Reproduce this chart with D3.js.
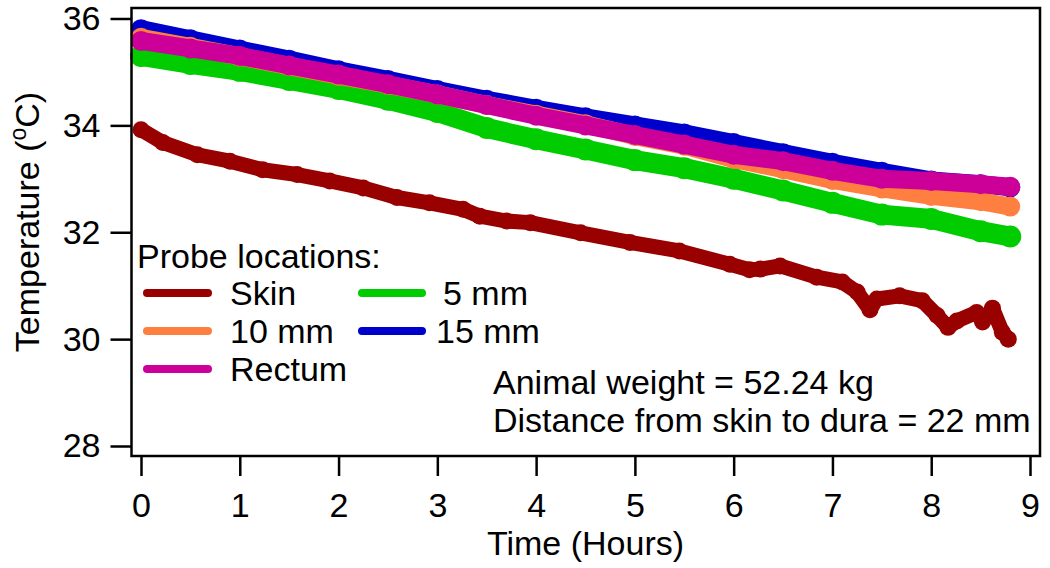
<!DOCTYPE html>
<html>
<head>
<meta charset="utf-8">
<script src="https://cdn.jsdelivr.net/npm/d3@7"></script>
<style>
  html, body { margin: 0; padding: 0; background: #fff; }
  svg { display: block; }
  text { font-family: "Liberation Sans", Arial, sans-serif; fill: #000; }
</style>
</head>
<body>
<svg id="chart" width="1050" height="568"></svg>
<script>
// ---- data ----
const hours = [0, 0.5, 1, 1.5, 2, 2.5, 3, 3.5, 4, 4.5, 5, 5.5, 6, 6.5, 7, 7.5, 8, 8.5, 8.8];
const probe15mm = [35.8, 35.61, 35.42, 35.23, 35.03, 34.85, 34.66, 34.48, 34.31, 34.15, 34.0, 33.85, 33.67, 33.48, 33.3, 33.13, 32.97, 32.9, 32.84];
const probe5mm  = [35.3, 35.15, 35.02, 34.85, 34.68, 34.48, 34.25, 33.95, 33.74, 33.55, 33.35, 33.2, 33.0, 32.78, 32.55, 32.33, 32.25, 32.02, 31.92];
const probe10mm = [35.64, 35.47, 35.29, 35.11, 34.93, 34.76, 34.58, 34.38, 34.2, 34.02, 33.8, 33.62, 33.37, 33.18, 32.98, 32.82, 32.68, 32.58, 32.48];
const probeRectum = [35.58, 35.44, 35.3, 35.12, 34.95, 34.77, 34.58, 34.38, 34.18, 34.0, 33.82, 33.64, 33.45, 33.33, 33.15, 33.0, 32.96, 32.9, 32.85];
const skinHours = [0, 0.22, 0.57, 0.9, 1.23, 1.58, 1.91, 2.25, 2.59, 2.92, 3.26, 3.43, 3.7, 3.94, 4.45, 4.95, 5.45, 5.96, 6.16, 6.27, 6.47, 6.84, 7.1, 7.25, 7.38, 7.45, 7.68, 7.91, 8.06, 8.17, 8.26, 8.46, 8.52, 8.62, 8.72, 8.78];
const skinTemp  = [33.92, 33.68, 33.45, 33.33, 33.17, 33.08, 32.96, 32.83, 32.65, 32.55, 32.43, 32.3, 32.21, 32.18, 31.99, 31.81, 31.65, 31.4, 31.3, 31.31, 31.37, 31.16, 31.07, 30.88, 30.55, 30.75, 30.81, 30.72, 30.44, 30.22, 30.34, 30.5, 30.32, 30.58, 30.13, 30.0];
const xTicks = [0, 1, 2, 3, 4, 5, 6, 7, 8, 9];
const yTicks = [28, 30, 32, 34, 36];
const seriesColors = {"Skin": "#990000", "10 mm": "#ff7f40", "Rectum": "#cc0099", "5 mm": "#00cc00", "15 mm": "#0000cc"};
const annotation = ["Animal weight = 52.24 kg", "Distance from skin to dura = 22 mm"];

// ---- layout ----
const svg = d3.select("#chart");
const frame = {left: 131.5, right: 1040, top: 8, bottom: 456};
const x = d3.scaleLinear().domain([0, 9]).range([141, 1030]);
const y = d3.scaleLinear().domain([28, 36]).range([446, 18.5]);
const FS = 34;

const series = [
  {name: "15 mm", t: hours, v: probe15mm, w: 18},
  {name: "5 mm", t: hours, v: probe5mm, w: 20},
  {name: "10 mm", t: hours, v: probe10mm, w: 18},
  {name: "Rectum", t: hours, v: probeRectum, w: 18},
  {name: "Skin", t: skinHours, v: skinTemp, w: 15}
];

const line = d3.line().x(d => x(d[0])).y(d => y(d[1]));
const plot = svg.append("g");
series.forEach(s => {
  const pts = s.t.map((t, i) => [t, s.v[i]]);
  plot.append("path")
    .attr("d", line(pts))
    .attr("fill", "none")
    .attr("stroke", seriesColors[s.name])
    .attr("stroke-width", s.w)
    .attr("stroke-linejoin", "round")
    .attr("stroke-linecap", "round");
  plot.selectAll(null).data(pts).enter().append("circle")
    .attr("cx", d => x(d[0])).attr("cy", d => y(d[1]))
    .attr("r", s.w / 2 + 1)
    .attr("fill", seriesColors[s.name]);
});

// frame
svg.append("rect")
  .attr("x", frame.left).attr("y", frame.top)
  .attr("width", frame.right - frame.left).attr("height", frame.bottom - frame.top)
  .attr("fill", "none").attr("stroke", "#000").attr("stroke-width", 2.5);

// axes
const yAxis = svg.append("g").attr("transform", `translate(${frame.left},0)`)
  .call(d3.axisLeft(y).tickValues(yTicks).tickSize(21).tickPadding(10));
const xAxis = svg.append("g").attr("transform", `translate(0,${frame.bottom})`)
  .call(d3.axisBottom(x).tickValues(xTicks).tickSize(20).tickPadding(17));
[yAxis, xAxis].forEach(a => {
  a.select(".domain").remove();
  a.selectAll(".tick line").attr("stroke", "#000").attr("stroke-width", 2.5);
  a.selectAll(".tick text").attr("font-size", FS).attr("font-family", "Liberation Sans, Arial, sans-serif").attr("fill", "#000");
});

// axis titles
svg.append("text").attr("x", 585.5).attr("y", 555).attr("text-anchor", "middle")
  .attr("font-size", FS).text("Time (Hours)");
const yl = svg.append("text").attr("transform", "translate(39,222) rotate(-90)")
  .attr("text-anchor", "middle").attr("font-size", FS);
yl.append("tspan").text("Temperature (");
yl.append("tspan").attr("font-size", 23).attr("dy", -13).text("o");
yl.append("tspan").attr("dy", 13).text("C)");

// legend
svg.append("text").attr("x", 137).attr("y", 268).attr("font-size", FS).text("Probe locations:");
const legendItems = [
  {name: "Skin", x1: 147, x2: 208, tx: 230, y: 293},
  {name: "10 mm", x1: 147, x2: 208, tx: 230, y: 331},
  {name: "Rectum", x1: 147, x2: 208, tx: 230, y: 369},
  {name: "5 mm", x1: 362, x2: 422, tx: 443, y: 293},
  {name: "15 mm", x1: 362, x2: 422, tx: 436, y: 331}
];
legendItems.forEach(it => {
  svg.append("line").attr("x1", it.x1).attr("x2", it.x2).attr("y1", it.y).attr("y2", it.y)
    .attr("stroke", seriesColors[it.name]).attr("stroke-width", 8).attr("stroke-linecap", "round");
  svg.append("text").attr("x", it.tx).attr("y", it.y + 12).attr("font-size", FS).text(it.name);
});

// annotation
annotation.forEach((t, i) => {
  svg.append("text").attr("x", 493).attr("y", 394 + i * 38).attr("font-size", FS).text(t);
});
</script>
</body>
</html>
